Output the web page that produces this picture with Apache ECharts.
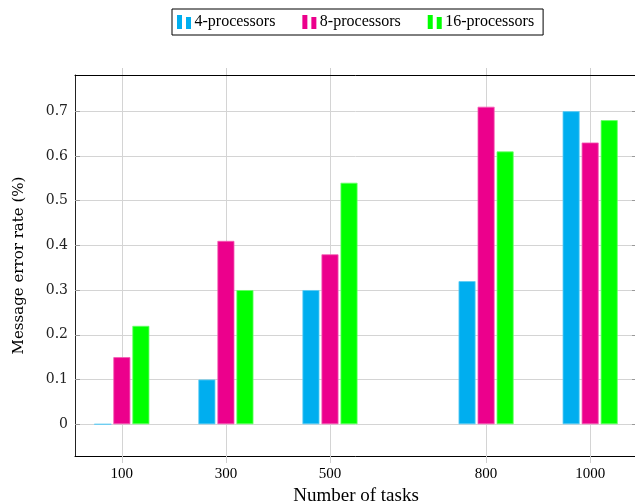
<!DOCTYPE html>
<html>
<head>
<meta charset="utf-8">
<script src="https://cdn.jsdelivr.net/npm/echarts@6/dist/echarts.min.js"></script>
<style>
  html, body { margin: 0; padding: 0; background: #fff; }
  #chart { width: 635px; height: 502px; }
</style>
</head>
<body>
<div id="chart"></div>
<script>
// Task counts on the x axis (numeric positions)
const taskCounts = [100, 300, 500, 800, 1000];
// Message error rate (%) per processor configuration
const proc4 = [0, 0.10, 0.30, 0.32, 0.70];
const proc8 = [0.15, 0.41, 0.38, 0.71, 0.63];
const proc16 = [0.22, 0.30, 0.54, 0.61, 0.68];
const yTicks = [0, 0.1, 0.2, 0.3, 0.4, 0.5, 0.6, 0.7];
const seriesNames = ['4-processors', '8-processors', '16-processors'];

const colors = ['#00aeef', '#ec008c', '#00ff00'];
const edges = ['#5ccdf5', '#f45cb4', '#66ff66'];
const legendIcon = 'path://M0,0H5V14H0Z M9,2H14V14H9Z';
const serifLib = '"Liberation Serif", "Times New Roman", serif';
const serifDv = '"DejaVu Serif", serif';

const pairs = vals => taskCounts.map((x, i) => [x, vals[i]]);

const chart = echarts.init(document.getElementById('chart'), null, { renderer: 'canvas' });

const barSeries = [proc4, proc8, proc16].map((vals, i) => ({
  name: seriesNames[i],
  type: 'bar',
  xAxisIndex: 0,
  yAxisIndex: 0,
  data: pairs(vals),
  barWidth: 17,
  barGap: '12%',
  itemStyle: { color: colors[i], borderColor: edges[i], borderWidth: 0.8 }
}));

chart.setOption({
  animation: false,
  backgroundColor: '#ffffff',
  legend: {
    data: seriesNames.map(n => ({ name: n, icon: legendIcon })),
    left: 172,
    top: 9,
    padding: [5, 9, 5, 5],
    itemGap: 27,
    itemWidth: 15,
    itemHeight: 14,
    borderColor: '#000',
    borderWidth: 1,
    itemStyle: { borderWidth: 0 },
    textStyle: { fontFamily: serifLib, fontSize: 16, color: '#000', padding: [0, 0, 0, -2] }
  },
  grid: { left: 75, top: 75, width: 562, height: 381, containLabel: false, outerBoundsMode: 'none' },
  xAxis: [
    {
      type: 'value',
      position: 'bottom',
      min: 10,
      max: 1090,
      name: 'Number of tasks',
      nameLocation: 'middle',
      nameGap: 28,
      nameTextStyle: { fontFamily: serifLib, fontSize: 19, color: '#000' },
      axisLine: { show: true, onZero: false, lineStyle: { color: '#000', width: 1 } },
      axisTick: { show: true, inside: false, length: 7, customValues: taskCounts, lineStyle: { color: '#cfcfcf' } },
      axisLabel: {
        customValues: taskCounts,
        margin: 11,
        fontFamily: serifLib,
        fontSize: 15,
        color: '#000',
        formatter: v => String(v)
      },
      splitLine: { show: true, lineStyle: { color: '#d4d4d4', width: 1 } }
    },
    {
      type: 'value',
      position: 'top',
      min: 10,
      max: 1090,
      axisLine: { show: true, onZero: false, lineStyle: { color: '#000', width: 1 } },
      axisTick: { show: true, inside: false, length: 7, customValues: taskCounts, lineStyle: { color: '#cfcfcf' } },
      axisLabel: { show: false },
      splitLine: { show: false }
    }
  ],
  yAxis: [
    {
      type: 'value',
      position: 'left',
      min: -0.071,
      max: 0.781,
      name: 'Message error rate (%)',
      nameLocation: 'middle',
      nameGap: 48,
      nameTextStyle: { fontFamily: serifDv, fontSize: 15, color: '#000' },
      axisLine: { show: true, onZero: false, lineStyle: { color: '#222', width: 1 } },
      axisTick: { show: true, inside: true, length: 5, customValues: yTicks, lineStyle: { color: '#999' } },
      axisLabel: {
        customValues: yTicks,
        margin: 7,
        fontFamily: serifDv,
        fontSize: 14,
        color: '#222',
        formatter: v => String(Math.round(v * 10) / 10)
      },
      splitLine: { show: true, lineStyle: { color: '#d4d4d4', width: 1 } }
    },
    {
      type: 'value',
      position: 'right',
      min: -0.071,
      max: 0.781,
      axisLine: { show: true, onZero: false, lineStyle: { color: '#222', width: 1 } },
      axisTick: { show: true, inside: true, length: 5, customValues: yTicks, lineStyle: { color: '#999' } },
      axisLabel: { show: false },
      splitLine: { show: false }
    }
  ],
  series: barSeries
});
</script>
</body>
</html>
